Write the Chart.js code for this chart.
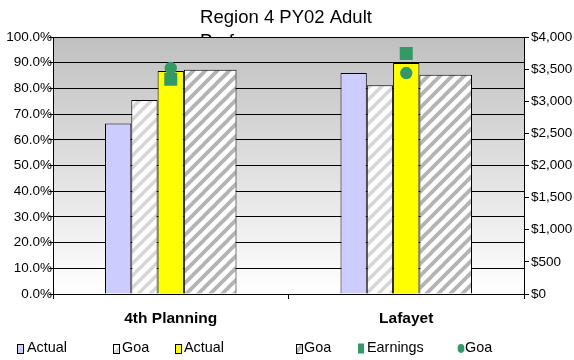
<!DOCTYPE html>
<html><head><meta charset="utf-8">
<script src="https://cdn.jsdelivr.net/npm/chart.js@4/dist/chart.umd.min.js"></script>
<style>html,body{margin:0;padding:0;background:#fff;}#wrap{width:574px;height:360px;}</style>
</head><body><div id="wrap"><canvas id="c" width="574" height="360"></canvas></div>
<script>
const categories = ['4th Planning', 'Lafayet'];
const actualPct = [66.3, 86.0];
const goalPct = [75.5, 81.2];
const actualDollars = [3470, 3594];
const goalDollars = [3490, 3412];
const earnings = [3342, 3742];
const earningsGoal = [3517, 3439];
const titleLines = ['Region 4 PY02 Adult', 'Performance'];
const seriesLabels = ['Actual', 'Goa', 'Actual', 'Goa', 'Earnings', 'Goa'];

const FONT = '"Liberation Sans", Arial, sans-serif';

function makePattern(stripe, period, lw) {
  const c = document.createElement('canvas');
  c.width = period; c.height = period;
  const x = c.getContext('2d');
  x.fillStyle = '#ffffff';
  x.fillRect(0, 0, period, period);
  x.strokeStyle = stripe;
  x.lineWidth = lw;
  for (const k of [0, period, 2 * period]) {
    x.beginPath();
    x.moveTo(-2, k + 2);
    x.lineTo(period + 2, k - period - 2);
    x.stroke();
  }
  return x.createPattern(c, 'repeat');
}
const patLight = makePattern('#d6d6d6', 12, 3.5);
const patDark = makePattern('#b4b4b4', 12, 3.8);

const CP = 0.5584;
const green = '#339966';

const decor = {
  id: 'decor',
  beforeDraw(chart) {
    const {ctx, chartArea: a} = chart;
    ctx.save();
    ctx.fillStyle = '#000';
    ctx.font = '18.5px ' + FONT;
    ctx.textBaseline = 'alphabetic';
    ctx.textAlign = 'center';
    ctx.fillText(titleLines[0], 286, 23);
    ctx.textAlign = 'left';
    ctx.fillText(titleLines[1], 200, 47);
    const g = ctx.createLinearGradient(0, a.top, 0, a.bottom);
    g.addColorStop(0, '#c0c0c0');
    g.addColorStop(1, '#ffffff');
    ctx.fillStyle = g;
    ctx.fillRect(a.left, a.top, a.right - a.left, a.bottom - a.top);
    ctx.restore();
  },
  afterDraw(chart) {
    const ctx = chart.ctx;
    const ds = chart.data.datasets;
    const items = [
      {x: 17, tx: 27, kind: 'box', ds: 0},
      {x: 113, tx: 122, kind: 'box', ds: 1},
      {x: 175, tx: 184, kind: 'box', ds: 2},
      {x: 296, tx: 304, kind: 'box', ds: 3},
      {x: 358, tx: 367, kind: 'sq', ds: 5},
      {x: 458, tx: 465, kind: 'circle', ds: 6}
    ];
    ctx.save();
    ctx.font = '14.4px ' + FONT;
    ctx.textBaseline = 'middle';
    ctx.textAlign = 'left';
    const cy = 348.5;
    for (const it of items) {
      const d = ds[it.ds];
      if (it.kind === 'box') {
        ctx.fillStyle = d.backgroundColor;
        ctx.fillRect(it.x, cy - 4.5, 6, 9);
        ctx.strokeStyle = '#000';
        ctx.lineWidth = 1;
        ctx.strokeRect(it.x + 0.5, cy - 4.5 + 0.5, 6, 9);
      } else if (it.kind === 'sq') {
        ctx.fillStyle = d.backgroundColor;
        ctx.fillRect(it.x, cy - 5, 6, 10);
      } else {
        ctx.fillStyle = d.backgroundColor;
        ctx.beginPath();
        ctx.ellipse(it.x + 3, cy, 3.4, 4.4, 0, 0, Math.PI * 2);
        ctx.fill();
      }
      ctx.fillStyle = '#000';
      ctx.fillText(d.label, it.tx, cy);
    }
    ctx.restore();
  }
};

const barBase = {type: 'bar', borderColor: '#000', borderWidth: 1, barPercentage: 1, categoryPercentage: CP};

new Chart(document.getElementById('c'), {
  data: {
    labels: categories,
    datasets: [
      Object.assign({}, barBase, {label: seriesLabels[0], data: actualPct, yAxisID: 'y', backgroundColor: '#ccccff'}),
      Object.assign({}, barBase, {label: seriesLabels[1], data: goalPct, yAxisID: 'y', backgroundColor: patLight}),
      Object.assign({}, barBase, {label: seriesLabels[2], data: actualDollars, yAxisID: 'y1', backgroundColor: '#ffff00'}),
      Object.assign({}, barBase, {label: seriesLabels[3], data: goalDollars, yAxisID: 'y1', backgroundColor: patDark, categoryPercentage: CP * 1.5, barPercentage: 4 / 3}),
      Object.assign({}, barBase, {label: '', data: [], yAxisID: 'y', backgroundColor: 'rgba(0,0,0,0)'}),
      {type: 'line', label: seriesLabels[4], data: earnings, yAxisID: 'y1', showLine: false, pointStyle: 'rect', pointRadius: 9.2, pointBorderWidth: 0, backgroundColor: green, borderColor: green, order: -1},
      {type: 'line', label: seriesLabels[5], data: earningsGoal, yAxisID: 'y1', showLine: false, pointStyle: 'circle', pointRadius: 6.2, pointBorderWidth: 0, backgroundColor: green, borderColor: green, order: -2}
    ]
  },
  options: {
    responsive: false,
    devicePixelRatio: 1,
    animation: false,
    layout: {padding: {top: 37, left: 0, right: 0, bottom: 0}},
    plugins: {legend: {display: false}, title: {display: false}, tooltip: {enabled: false}},
    scales: {
      x: {
        type: 'category',
        offset: true,
        grid: {display: true, drawOnChartArea: false, drawTicks: true, tickLength: 5, offset: true, color: '#000', tickColor: '#000'},
        border: {display: true, color: '#000', width: 1},
        ticks: {color: '#000', font: {family: FONT, size: 15.5, weight: 'bold'}, padding: 10, maxRotation: 0},
        afterFit(s) { s.height = 66; }
      },
      y: {
        position: 'left',
        min: 0, max: 100,
        ticks: {stepSize: 10, color: '#000', font: {family: FONT, size: 13.5}, padding: -3, callback: v => v.toFixed(1) + '%'},
        grid: {color: '#000', lineWidth: 1, drawTicks: true, tickLength: 4, tickColor: '#000'},
        border: {display: true, color: '#000', width: 1},
        afterFit(s) { s.width = 53; }
      },
      y1: {
        position: 'right',
        min: 0, max: 4000,
        ticks: {stepSize: 500, color: '#000', font: {family: FONT, size: 13.5}, padding: 2, callback: v => '$' + Number(v).toLocaleString('en-US')},
        grid: {drawOnChartArea: false, drawTicks: true, tickLength: 5, tickColor: '#000'},
        border: {display: true, color: '#000', width: 1},
        afterFit(s) { s.width = 50; }
      }
    }
  },
  plugins: [decor]
});
</script>
</body></html>
